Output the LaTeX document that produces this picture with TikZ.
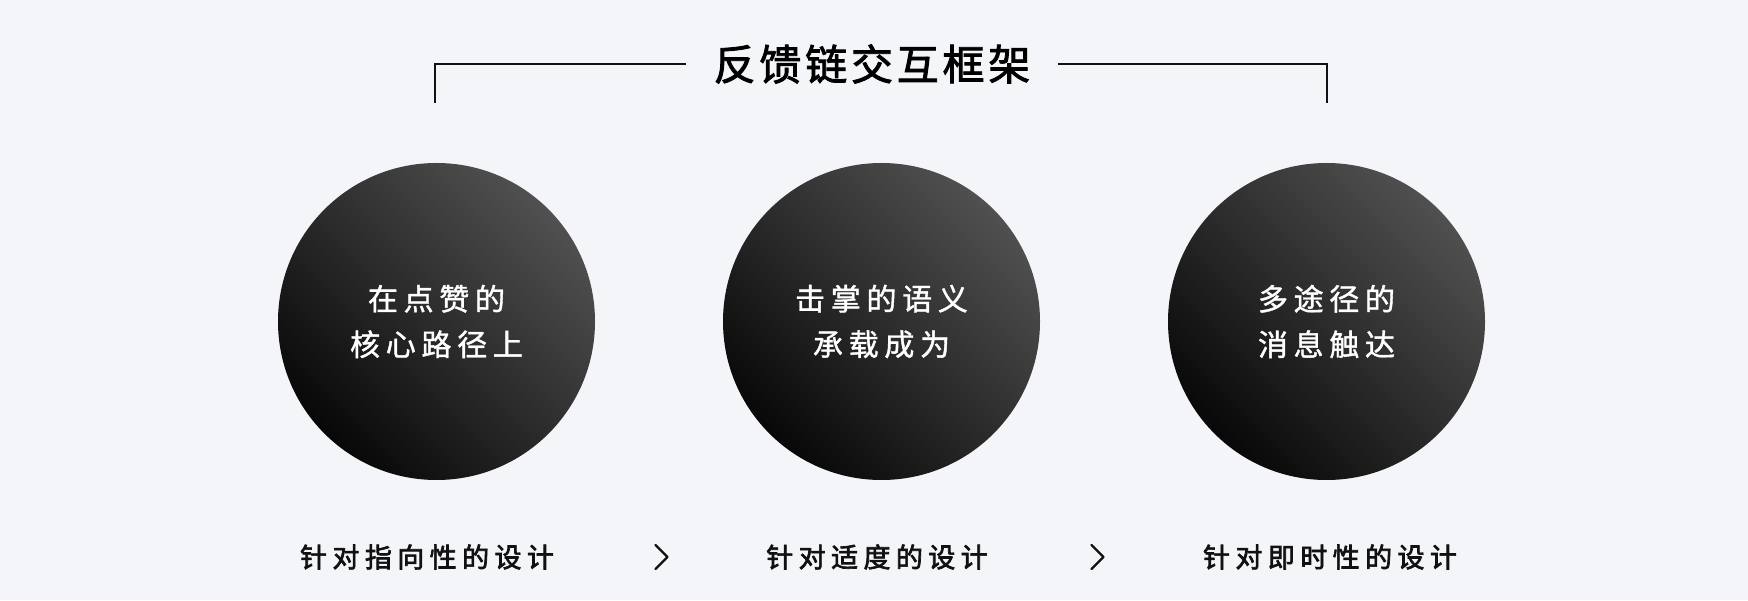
\documentclass[tikz,border=0pt]{standalone}
\usepackage{fontspec}
\newfontfamily\cjkwide{Noto Sans CJK SC}[LetterSpace=19,FakeBold=1.3]
\newfontfamily\cjktitle{Noto Sans CJK SC}[LetterSpace=9,FakeBold=2]
\newfontfamily\cjklabel{Noto Sans CJK SC}[LetterSpace=20,FakeBold=2.5]
\definecolor{bgpaper}{HTML}{F4F5F9}
\definecolor{ballhi}{HTML}{505050}
\definecolor{balllo}{HTML}{080808}
\definecolor{inkdark}{HTML}{111111}

\begin{document}
\begin{tikzpicture}[x=1pt,y=1pt,node distance=445pt,
  bubble/.style={circle,minimum size=317pt,inner sep=0pt,
    top color=ballhi,bottom color=balllo,shading angle=-45,
    text=white,align=center,font=\cjkwide\fontsize{30}{45.5}\selectfont},
  tag/.style={font=\cjklabel\fontsize{27}{27}\selectfont,text=inkdark},
  frame/.style={line width=2pt,draw=inkdark},
  chev/.style={line width=2.2pt,draw=inkdark,line cap=round,line join=round}]

\fill[bgpaper] (0,0) rectangle (1748,600);
\useasboundingbox (0,0) rectangle (1748,600);

% title and bracket
\node[font=\cjktitle\fontsize{42}{42}\selectfont,inner xsep=27pt] (title) at (872,536) {反馈链交互框架};
\coordinate (hl) at (435,497);
\coordinate (hr) at (1327,497);
\draw[frame] (title.west) -| (hl);
\draw[frame] (title.east) -| (hr);

% the three steps
\node[bubble] (c1) at (436.5,278.5) {在点赞的\\核心路径上};
\node[bubble] (c2) [right of=c1] {击掌的语义\\承载成为};
\node[bubble] (c3) [right of=c2] {多途径的\\消息触达};

\node[tag] (t1) at (427,43) {针对指向性的设计};
\node[tag] (t2) at (877,43) {针对适度的设计};
\node[tag] (t3) at (1330,43) {针对即时性的设计};

\coordinate (a1) at (661.5,43);
\coordinate (a2) at (1097.5,43);
\draw[chev] ([shift={(-6,12)}]a1) -- ++(12,-12) -- ++(-12,-12);
\draw[chev] ([shift={(-6,12)}]a2) -- ++(12,-12) -- ++(-12,-12);

\end{tikzpicture}
\end{document}
